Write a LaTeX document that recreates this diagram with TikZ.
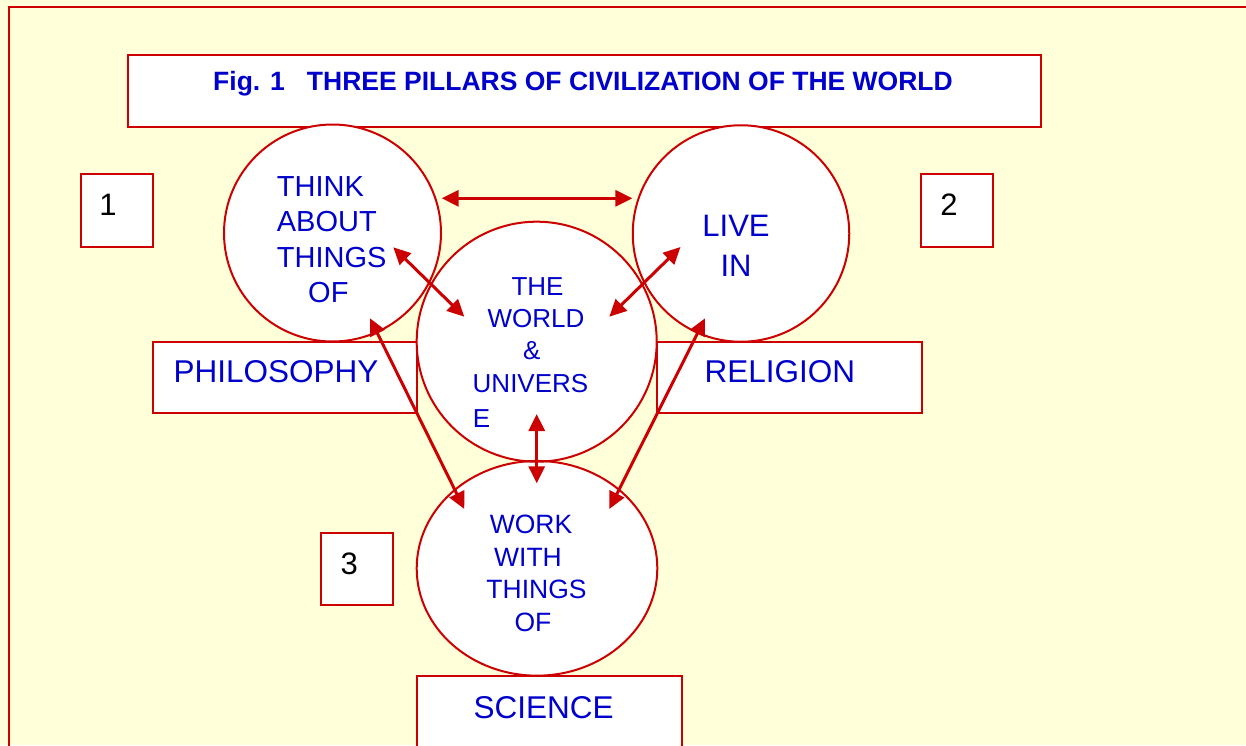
\documentclass[tikz,border=0pt]{standalone}
\usepackage{fontspec}
\setmainfont{Liberation Sans}
\usetikzlibrary{arrows.meta,shapes.geometric}
\definecolor{bgyellow}{HTML}{FFFFDA}
\definecolor{dred}{HTML}{CC0000}
\definecolor{dblue}{HTML}{0000CC}
\newcommand\fsz[1]{\fontsize{#1}{#1}\selectfont}
\begin{document}
\begin{tikzpicture}[x=1pt,y=-1pt,
  shapefill/.style={fill=white,draw=none,inner sep=0pt,outer sep=0pt},
  boxshape/.style={draw=dred,line width=2pt,fill=white,rectangle,anchor=north west,inner sep=0pt,outer sep=0pt},
  outline/.style={draw=dred,line width=2pt},
  lbl/.style={text=dblue,inner sep=0pt,anchor=base},
  lblw/.style={lbl,anchor=base west},
  num/.style={text=black,inner sep=0pt,anchor=base,font=\fsz{31}},
  link/.style={draw=dred,line width=3pt,{Triangle[length=17pt,width=16pt]}-{Triangle[length=17pt,width=16pt]}}
]
\useasboundingbox (0,0) rectangle (1246,745);
\clip (0,0) rectangle (1246,745);
\fill[bgyellow] (0,0) rectangle (1246,745);
\draw[dred,line width=2.2pt] (9,7) rectangle (1300,800);

% boxes
\node[boxshape,minimum width=912.7pt,minimum height=71.7pt] (titlebox) at (128.3,55) {};
\node[boxshape,minimum width=72.3pt,minimum height=72.7pt] (box1) at (80.7,174) {};
\node[boxshape,minimum width=72.3pt,minimum height=72.7pt] (box2) at (920.7,174) {};
\node[boxshape,minimum width=72.3pt,minimum height=71.7pt] (box3) at (320.7,533.3) {};
\node[boxshape,minimum width=264.5pt,minimum height=71.5pt] (philobox) at (152.5,341.7) {};
\node[boxshape,minimum width=265pt,minimum height=71.5pt] (religbox) at (656.7,341.7) {};
\node[boxshape,minimum width=265pt,minimum height=71.5pt] (scibox) at (416.7,676) {};

% circles: fills first
\node[shapefill,circle,minimum size=217pt] (think) at (332.5,233) {};
\node[shapefill,circle,minimum size=216.5pt] (live) at (741,233.5) {};
\node[shapefill,circle,minimum size=240pt] (world) at (536.7,341.7) {};
\node[shapefill,ellipse,minimum width=240.6pt,minimum height=214.7pt] (work) at (537,568.3) {};
% outlines
\draw[outline] (think.center) circle [radius=108.5pt];
\draw[outline] (live.center) circle [radius=108.25pt];
\draw[outline] (world.center) circle [radius=120pt];
\draw[outline] (work.center) ellipse [x radius=120.3pt, y radius=107.35pt];

% title
\node[lbl,font=\fsz{26.5}\bfseries] (titletext) at (583,90) {Fig. 1\ \ \ THREE PILLARS OF CIVILIZATION OF THE WORLD};

% numbers
\node[num] (n1) at (108,215.4) {1};
\node[num] (n2) at (949,215.6) {2};
\node[num] (n3) at (349.3,574) {3};

% think text
\node[lblw,font=\fsz{29}] (think1) at (276.7,196.1) {THINK};
\node[lblw,font=\fsz{29}] (think2) at (276.7,231.1) {ABOUT};
\node[lblw,font=\fsz{29}] (think3) at (276.7,267.1) {THINGS};
\node[lblw,font=\fsz{29}] (think4) at (308,302.1) {OF};

% live text
\node[lbl,font=\fsz{31}] (live1) at (736,236.8) {LIVE};
\node[lbl,font=\fsz{31}] (live2) at (736,276.1) {IN};

% world text
\node[lbl,font=\fsz{26}] (world1) at (537.5,295.3) {THE};
\node[lbl,font=\fsz{26}] (world2) at (536,327.6) {WORLD};
\node[lbl,font=\fsz{26}] (world3) at (531.7,359.3) {\&};
\node[lbl,font=\fsz{26}] (world4) at (530.5,392) {UNIVERS};
\node[lblw,font=\fsz{26}] (world5) at (472.7,427.6) {E};

% work text
\node[lbl,font=\fsz{26.5}] (work1) at (531,533.8) {WORK};
\node[lbl,font=\fsz{26.5}] (work2) at (528,566.8) {WITH};
\node[lbl,font=\fsz{26.5}] (work3) at (536.5,598.8) {THINGS};
\node[lbl,font=\fsz{26.5}] (work4) at (533,631.2) {OF};

% box labels
\node[lblw,font=\fsz{31.5}] (philotext) at (173.3,382.6) {PHILOSOPHY};
\node[lblw,font=\fsz{31.5}] (religtext) at (704.3,382.6) {RELIGION};
\node[lblw,font=\fsz{31.5}] (scitext) at (473.3,718) {SCIENCE};

% arrow end points
\coordinate (thinkR) at (441.7,198.3);
\coordinate (liveL) at (632.3,198.3);
\coordinate (thinkIn) at (393.3,247.3);
\coordinate (worldUL) at (464.3,316.7);
\coordinate (worldUR) at (609.3,316.7);
\coordinate (liveIn) at (680.5,247);
\coordinate (worldB) at (536.7,414);
\coordinate (workT) at (536.7,483.3);
\coordinate (thinkLow) at (370,318.3);
\coordinate (workUL) at (464.3,509);
\coordinate (liveLow) at (705,318.3);
\coordinate (workUR) at (609.3,509);

\draw[link] (thinkR) -- (liveL);
\draw[link] (thinkIn) -- (worldUL);
\draw[link] (worldUR) -- (liveIn);
\draw[link] (worldB) -- (workT);
\draw[link] (thinkLow) -- (workUL);
\draw[link] (liveLow) -- (workUR);
\end{tikzpicture}
\end{document}
